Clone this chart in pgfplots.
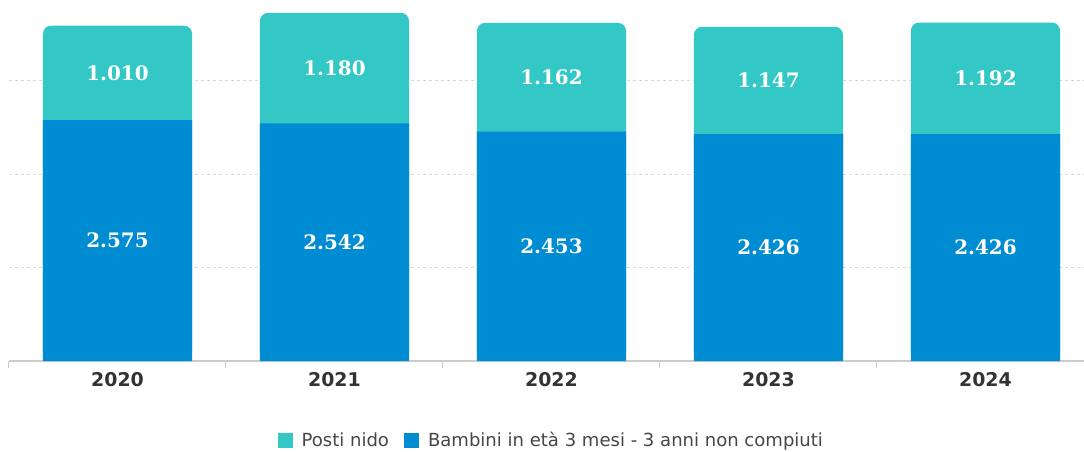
\documentclass[border=0pt]{standalone}
\usepackage{pgfplots}
\pgfplotsset{compat=1.18}
\usepackage{pgfplotstable}
\usepackage{fontspec}
\setmainfont{DejaVu Sans}
\newfontfamily\valfont{DejaVu Serif}
\definecolor{teal2}{RGB}{51,199,198}
\definecolor{blue2}{RGB}{0,140,211}
\definecolor{axgray}{RGB}{204,204,204}
\definecolor{gridgray}{RGB}{215,215,215}
\definecolor{ticktext}{RGB}{51,51,51}
\definecolor{legtext}{RGB}{70,70,70}

\pgfplotstableread{
x blue teal bluelab teallab
0 2575 1010 2.575 1.010
1 2542 1180 2.542 1.180
2 2453 1162 2.453 1.162
3 2426 1147 2.426 1.147
4 2426 1192 2.426 1.192
}\data

\begin{document}
\begin{tikzpicture}
\clip (-9bp,-91bp) rectangle (1075bp,361bp);
\begin{axis}[
  at={(0,0)}, anchor=south west,
  scale only axis, width=1075bp, height=361bp,
  xmin=-0.5, xmax=4.454, ymin=0, ymax=3860,
  axis x line*=bottom, axis y line*=left,
  x axis line style={draw=axgray, line width=1.3bp},
  y axis line style={draw=none},
  ytick={1000,2000,3000}, yticklabels={}, major y tick style={draw=none},
  ymajorgrids, grid style={draw=gridgray, line width=0.7bp, dash pattern=on 3bp off 3bp},
  xtick={-0.5,0.5,1.5,2.5,3.5}, xticklabels={},
  x tick style={draw=axgray, line width=1bp},
  xtick align=outside, major tick length=7bp,
  extra x ticks={0,1,2,3,4}, extra x tick labels={2020,2021,2022,2023,2024},
  extra x tick style={major tick length=0pt},
  xticklabel style={anchor=north, yshift=-8bp, text=ticktext, font=\bfseries\fontsize{19}{19}\selectfont},
  legend style={at={(0.504,-0.222)}, anchor=center, draw=none, fill=none, legend columns=-1,
    font=\fontsize{18.1}{18.1}\selectfont, text=legtext,
    nodes={text height=0.75em, text depth=0.22em, inner sep=1bp},
    /tikz/every odd column/.append style={column sep=8bp},
    /tikz/every even column/.append style={column sep=14bp}},
  legend image code/.code={\fill[#1, sharp corners] (0bp,-4.5bp) rectangle (15bp,10.5bp);},
]
\addplot[ybar, bar width=0.687, bar shift=0pt, fill=teal2, draw=none, rounded corners=8bp]
  table[x=x, y expr=\thisrow{blue}+\thisrow{teal}] {\data};
\addlegendentry{Posti nido}
\addplot[ybar, bar width=0.687, bar shift=0pt, fill=blue2, draw=none]
  table[x=x, y=blue] {\data};
\addlegendentry{Bambini in età 3 mesi - 3 anni non compiuti}
\addplot[forget plot, draw=none, mark=none, nodes near coords, point meta=explicit symbolic,
  nodes near coords style={anchor=center, text=white, font=\valfont\bfseries\fontsize{20}{20}\selectfont}]
  table[x=x, y expr=\thisrow{blue}/2, meta=bluelab] {\data};
\addplot[forget plot, draw=none, mark=none, nodes near coords, point meta=explicit symbolic,
  nodes near coords style={anchor=center, text=white, font=\valfont\bfseries\fontsize{20}{20}\selectfont}]
  table[x=x, y expr=\thisrow{blue}+\thisrow{teal}/2, meta=teallab] {\data};
\end{axis}
\end{tikzpicture}
\end{document}
